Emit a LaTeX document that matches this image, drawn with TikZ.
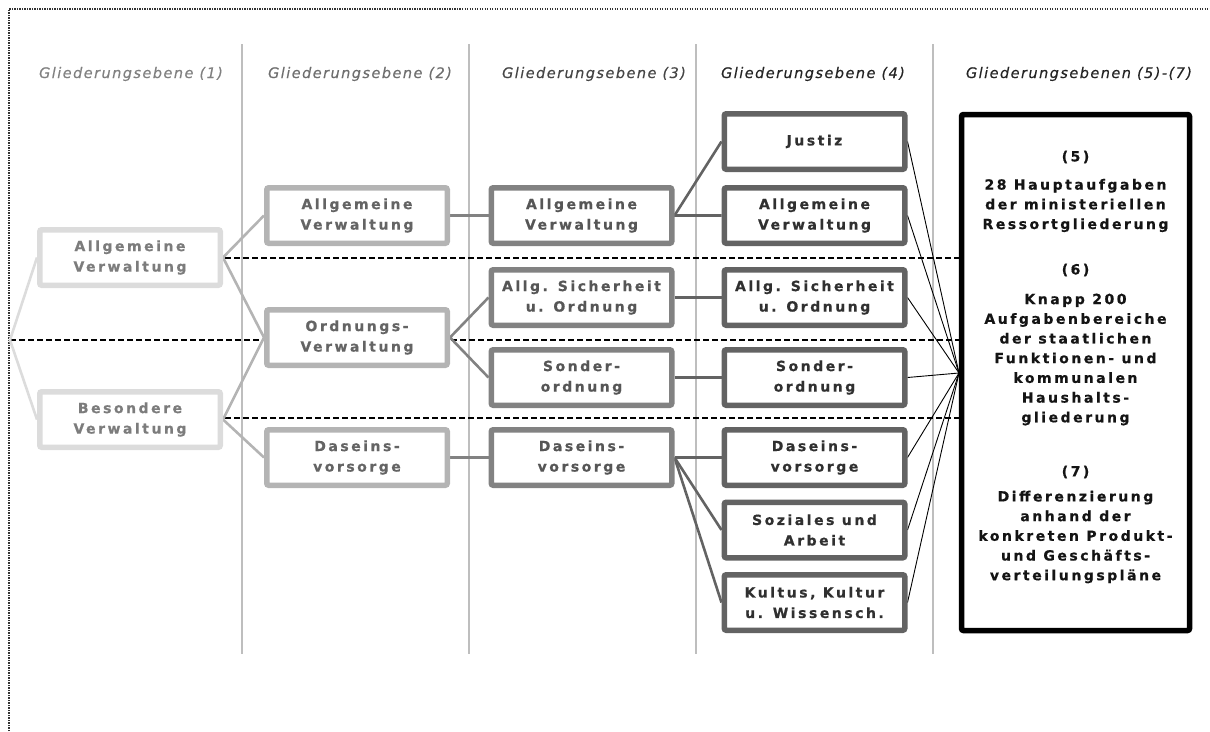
\documentclass[tikz,border=0pt]{standalone}
\usepackage{fontspec}
\newfontfamily\boxfont{DejaVu Sans}[UprightFont=* Bold, LetterSpace=18, FakeBold=0.6]
\newfontfamily\headfont{DejaVu Sans}[UprightFont=* Oblique, LetterSpace=10, FakeBold=0.3]
\usetikzlibrary{backgrounds}

\definecolor{cOneB}{HTML}{DCDCDC}
\definecolor{cOneT}{HTML}{7C7C7C}
\definecolor{cTwoB}{HTML}{B4B4B4}
\definecolor{cTwoT}{HTML}{646464}
\definecolor{cThrB}{HTML}{828282}
\definecolor{cThrT}{HTML}{565656}
\definecolor{cFouB}{HTML}{636363}
\definecolor{cFouT}{HTML}{303030}
\definecolor{colline}{HTML}{BEBEBE}

\tikzset{
  box/.style={rounded corners=2pt, fill=white, line width=5.5pt,
    minimum width=180.5pt, minimum height=55.5pt, inner sep=0pt, align=center,
    font=\boxfont\fontsize{14}{20.5}\selectfont},
  lvone/.style={box, draw=cOneB, text=cOneT},
  lvtwo/.style={box, draw=cTwoB, text=cTwoT},
  lvthr/.style={box, draw=cThrB, text=cThrT},
  lvfou/.style={box, draw=cFouB, text=cFouT},
  bigbox/.style={rounded corners=2pt, fill=white, draw=black, line width=5.5pt,
    minimum width=228pt, minimum height=516pt, inner sep=0pt},
  bigtxt/.style={align=center, inner sep=0pt, text=black!92,
    font=\boxfont\fontsize{14}{19.7}\selectfont},
  head/.style={inner sep=0pt, font=\headfont\fontsize{14.5}{16}\selectfont},
  colsep/.style={draw=colline, line width=1.4pt},
  sep/.style={draw=black, line width=1.2pt, dash pattern=on 6pt off 3pt},
  conone/.style={draw=cOneB, line width=2.6pt},
  contwo/.style={draw=cTwoB, line width=2.6pt},
  conthr/.style={draw=cThrB, line width=2.6pt},
  confou/.style={draw=cFouB, line width=2.6pt},
  conbig/.style={draw=black, line width=0.9pt},
  frame/.style={draw=black!80, line width=1.2pt, dash pattern=on 1.2pt off 1.3pt}
}

\begin{document}
\begin{tikzpicture}[x=1pt,y=-1pt]
\useasboundingbox (0,0) rectangle (1210,731);

% column headings
\node[head, text=black!50] (h1) at (131,74) {Gliederungsebene (1)};
\node[head, text=black!57] (h2) at (360,74) {Gliederungsebene (2)};
\node[head, text=black!73] (h3) at (594,74) {Gliederungsebene (3)};
\node[head, text=black!86] (h4) at (813,74) {Gliederungsebene (4)};
\node[head, text=black!86] (h5) at (1079,74) {Gliederungsebenen (5)-(7)};

% level 1
\node[lvone] (a1) at (130,257.5) {Allgemeine\\Verwaltung};
\node[lvone] (b1) at (130,419.5) {Besondere\\Verwaltung};

% level 2
\node[lvtwo] (a2) at (357,215.5) {Allgemeine\\Verwaltung};
\node[lvtwo] (o2) at (357,337.5) {Ordnungs-\\Verwaltung};
\node[lvtwo] (d2) at (357,457.5) {Daseins-\\vorsorge};

% level 3
\node[lvthr] (a3) at (581.5,215.5) {Allgemeine\\Verwaltung};
\node[lvthr] (s3) at (581.5,297.5) {Allg. Sicherheit\\u. Ordnung};
\node[lvthr] (so3) at (581.5,377.5) {Sonder-\\ordnung};
\node[lvthr] (d3) at (581.5,457.5) {Daseins-\\vorsorge};

% level 4
\node[lvfou] (j4) at (814.5,141.5) {Justiz};
\node[lvfou] (a4) at (814.5,215.5) {Allgemeine\\Verwaltung};
\node[lvfou] (s4) at (814.5,297.5) {Allg. Sicherheit\\u. Ordnung};
\node[lvfou] (so4) at (814.5,377.5) {Sonder-\\ordnung};
\node[lvfou] (d4) at (814.5,457.5) {Daseins-\\vorsorge};
\node[lvfou] (z4) at (814.5,530) {Soziales und\\Arbeit};
\node[lvfou] (k4) at (814.5,602.5) {Kultus, Kultur\\u. Wissensch.};

% levels 5 to 7
\node[bigbox] (big) at (1075.5,372.5) {};
\node[bigtxt] (n5) at (1075.5,157) {(5)};
\node[bigtxt] (t5) at (1075.5,205.5) {28 Hauptaufgaben\\der ministeriellen\\Ressortgliederung};
\node[bigtxt] (n6) at (1075.5,270) {(6)};
\node[bigtxt] (t6) at (1075.5,359.5) {Knapp 200\\Aufgabenbereiche\\der staatlichen\\Funktionen- und\\kommunalen\\Haushalts-\\gliederung};
\node[bigtxt] (n7) at (1075.5,472) {(7)};
\node[bigtxt] (t7) at (1075.5,537) {Differenzierung\\anhand der\\konkreten Produkt-\\und Gesch\"afts-\\verteilungspl\"ane};

\coordinate (root) at (10,340);
\coordinate (conv) at (959,373);

\begin{scope}[on background layer]
  % outer dotted frame
  \draw[frame] (9,731) -- (9,9) -- (1210,9);
  % column separators
  \foreach \x in {242,469,696,933} \draw[colsep] (\x,44) -- (\x,654);
  % dashed separators between groups
  \coordinate (dA) at (225,258);
  \coordinate (dB) at (225,418);
  \draw[sep] (dA) -- (dA -| conv);
  \draw[sep] (root) -- (root -| conv);
  \draw[sep] (dB) -- (dB -| conv);
  % connectors
  \draw[conone] (a1.west) -- (root) -- (b1.west);
  \draw[contwo] (a2.west) -- (a1.east) -- (o2.west) -- (b1.east) -- (d2.west);
  \draw[conthr] (a2.east) -- (a3.west);
  \draw[conthr] (s3.west) -- (o2.east) -- (so3.west);
  \draw[conthr] (d2.east) -- (d3.west);
  \draw[confou] (j4.west) -- (a3.east) -- (a4.west);
  \draw[confou] (s3.east) -- (s4.west);
  \draw[confou] (so3.east) -- (so4.west);
  \draw[confou] (d3.east) -- (d4.west);
  \draw[confou] (d3.east) -- (z4.west);
  \draw[confou] (d3.east) -- (k4.west);
  \foreach \n in {j4,a4,s4,so4,d4,z4,k4} \draw[conbig] (\n.east) -- (conv);
\end{scope}
\end{tikzpicture}
\end{document}
